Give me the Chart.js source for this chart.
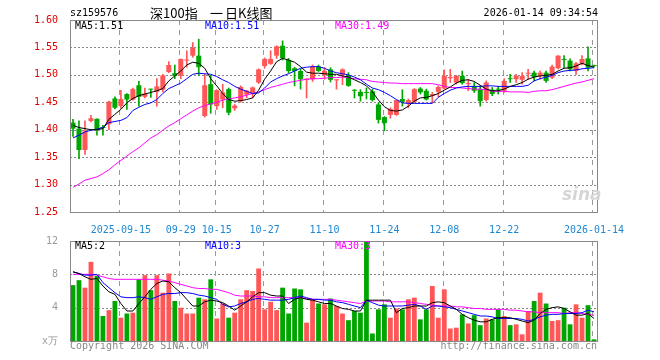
<!DOCTYPE html>
<html>
<head>
<meta charset="utf-8">
<script src="https://cdn.jsdelivr.net/npm/chart.js@4/dist/chart.umd.min.js"></script>
<style>
body{margin:0;background:#fff}
#box{position:relative;width:660px;height:360px;overflow:hidden}
canvas{position:absolute;left:0;top:0}
.t{position:absolute;font:10px/12px "DejaVu Sans Mono",monospace;white-space:nowrap;color:#000}
.c{position:absolute;font:13px/16px "Noto Sans CJK SC";white-space:nowrap;color:#000;top:5px}
</style>
</head>
<body>
<div id="box">
<canvas id="kline" width="660" height="360"></canvas>
<canvas id="vol" width="660" height="360"></canvas>
<div class="t" style="left:70px;top:7px">sz159576</div>
<div class="c" style="left:150px">深100指</div>
<div class="c" style="left:210px">一</div>
<div class="c" style="left:225px">日K线图</div>
<div class="t" style="right:62px;top:7px">2026-01-14 09:34:54</div>
<div class="t" id="ma5" style="left:75px;top:20px"></div>
<div class="t" id="ma10" style="left:205px;top:20px;color:#0000ff"></div>
<div class="t" id="ma30" style="left:335px;top:20px;color:#ff00ff"></div>
<div class="t" id="vma5" style="left:75px;top:240px"></div>
<div class="t" id="vma10" style="left:205px;top:240px;color:#0000ff"></div>
<div class="t" id="vma30" style="left:335px;top:240px;color:#ff00ff"></div>
<div class="t" style="left:70px;top:340px;color:#888">Copyright 2026 SINA.COM</div>
<div class="t" style="right:63px;top:340px;color:#888">http://finance.sina.com.cn</div>
<div class="t" style="left:562px;top:185px;font:italic bold 17px/18px 'DejaVu Sans';color:#d6d6d6">sina</div>
</div>
<script>
// trading days shown on the chart
var dates = ['2025-09-03','2025-09-04','2025-09-05','2025-09-08','2025-09-09','2025-09-10','2025-09-11','2025-09-12','2025-09-15','2025-09-16','2025-09-17','2025-09-18','2025-09-19','2025-09-22','2025-09-23','2025-09-24','2025-09-25','2025-09-26','2025-09-29','2025-09-30',
 '2025-10-09','2025-10-10','2025-10-13','2025-10-14','2025-10-15','2025-10-16','2025-10-17','2025-10-20','2025-10-21','2025-10-22','2025-10-23','2025-10-24','2025-10-27','2025-10-28','2025-10-29','2025-10-30','2025-10-31',
 '2025-11-03','2025-11-04','2025-11-05','2025-11-06','2025-11-07','2025-11-10','2025-11-11','2025-11-12','2025-11-13','2025-11-14','2025-11-17','2025-11-18','2025-11-19','2025-11-20','2025-11-21','2025-11-24','2025-11-25','2025-11-26','2025-11-27','2025-11-28',
 '2025-12-01','2025-12-02','2025-12-03','2025-12-04','2025-12-05','2025-12-08','2025-12-09','2025-12-10','2025-12-11','2025-12-12','2025-12-15','2025-12-16','2025-12-17','2025-12-18','2025-12-19','2025-12-22','2025-12-23','2025-12-24','2025-12-25','2025-12-26','2025-12-29','2025-12-30','2025-12-31',
 '2026-01-05','2026-01-06','2026-01-07','2026-01-08','2026-01-09','2026-01-12','2026-01-13','2026-01-14'];

var tickDates = ['2025-09-15','2025-09-29','2025-10-15','2025-10-27','2025-11-10','2025-11-24','2025-12-08','2025-12-22','2026-01-14'];
var tickText = ['2025-09-15','09-29','10-15','10-27','11-10','11-24','12-08','12-22','2026-01-14'];
var priceTicks = [1.25,1.30,1.35,1.40,1.45,1.50,1.55,1.60];
var volTicks = [0,4,8,12];

var open = [1.413,1.402,1.363,1.416,1.420,1.404,1.410,1.457,1.443,1.465,1.455,1.481,1.460,1.474,1.469,1.473,1.505,1.503,1.499,1.526,
 1.535,1.535,1.425,1.483,1.443,1.455,1.474,1.439,1.452,1.464,1.466,1.486,1.516,1.520,1.535,1.553,1.527,
 1.512,1.507,1.491,1.492,1.515,1.500,1.510,1.490,1.500,1.499,1.472,1.469,1.468,1.470,1.446,1.423,1.427,1.427,1.456,
 1.448,1.451,1.475,1.471,1.462,1.469,1.475,1.494,1.486,1.498,1.483,1.478,1.474,1.454,1.473,1.474,1.471,1.493,1.492,1.491,1.502,1.504,1.498,1.504,
 1.495,1.512,1.528,1.526,1.507,1.520,1.530,1.517];
var high = [1.419,1.416,1.416,1.426,1.420,1.408,1.452,1.460,1.472,1.466,1.476,1.488,1.476,1.474,1.493,1.501,1.524,1.518,1.529,1.544,
 1.559,1.565,1.501,1.499,1.473,1.483,1.476,1.446,1.480,1.472,1.478,1.511,1.531,1.544,1.553,1.562,1.530,
 1.514,1.511,1.493,1.518,1.518,1.513,1.513,1.491,1.511,1.504,1.473,1.473,1.476,1.474,1.449,1.424,1.440,1.454,1.473,
 1.456,1.475,1.477,1.474,1.468,1.480,1.509,1.510,1.499,1.507,1.492,1.486,1.480,1.489,1.477,1.479,1.493,1.501,1.501,1.504,1.510,1.507,1.507,1.507,
 1.518,1.535,1.535,1.529,1.523,1.535,1.551,1.518];
var low = [1.388,1.347,1.355,1.414,1.390,1.390,1.400,1.438,1.439,1.437,1.454,1.443,1.458,1.459,1.443,1.469,1.504,1.493,1.493,1.514,
 1.532,1.499,1.423,1.430,1.437,1.440,1.427,1.435,1.450,1.458,1.458,1.484,1.512,1.519,1.530,1.527,1.504,
 1.480,1.474,1.458,1.488,1.506,1.492,1.487,1.474,1.482,1.479,1.458,1.452,1.456,1.452,1.412,1.398,1.421,1.426,1.443,
 1.440,1.450,1.465,1.454,1.449,1.460,1.474,1.486,1.483,1.483,1.471,1.468,1.443,1.452,1.462,1.465,1.468,1.486,1.486,1.483,1.492,1.489,1.492,1.486,
 1.493,1.511,1.513,1.507,1.501,1.518,1.507,1.514];
var close = [1.402,1.363,1.397,1.421,1.401,1.403,1.451,1.440,1.456,1.455,1.474,1.460,1.466,1.473,1.479,1.499,1.518,1.498,1.529,1.527,
 1.549,1.514,1.481,1.446,1.472,1.468,1.431,1.444,1.478,1.471,1.477,1.510,1.529,1.529,1.552,1.530,1.507,
 1.507,1.492,1.493,1.515,1.507,1.507,1.491,1.491,1.510,1.480,1.471,1.461,1.467,1.454,1.418,1.412,1.438,1.454,1.451,
 1.454,1.474,1.468,1.455,1.465,1.478,1.498,1.496,1.498,1.485,1.485,1.471,1.452,1.486,1.465,1.473,1.489,1.492,1.498,1.498,1.503,1.496,1.504,1.489,
 1.515,1.535,1.527,1.510,1.521,1.529,1.513,1.516];

var ma5 = [1.408,1.404,1.402,1.400,1.400,1.402,1.419,1.428,1.437,1.449,1.457,1.462,1.465,1.468,1.471,1.475,1.489,1.498,1.507,1.518,
 1.523,1.521,1.512,1.493,1.480,1.466,1.455,1.452,1.453,1.455,1.458,1.472,1.492,1.507,1.524,1.530,1.527,
 1.523,1.515,1.505,1.503,1.503,1.502,1.501,1.501,1.498,1.496,1.491,1.486,1.480,1.469,1.454,1.442,1.435,1.434,1.436,
 1.443,1.452,1.458,1.459,1.462,1.466,1.472,1.478,1.485,1.490,1.491,1.488,1.481,1.474,1.471,1.471,1.474,1.479,1.482,1.486,1.492,1.496,1.498,1.499,
 1.501,1.507,1.512,1.513,1.516,1.521,1.517,1.514];
var ma10 = [1.385,1.390,1.396,1.399,1.401,1.404,1.413,1.415,1.417,1.422,1.435,1.441,1.446,1.449,1.455,1.466,1.475,1.480,1.485,1.493,
 1.501,1.503,1.502,1.501,1.497,1.491,1.486,1.479,1.474,1.470,1.466,1.467,1.476,1.487,1.493,1.498,1.502,
 1.507,1.512,1.514,1.515,1.515,1.512,1.507,1.504,1.502,1.500,1.496,1.491,1.483,1.476,1.473,1.468,1.462,1.455,1.449,
 1.448,1.448,1.448,1.448,1.448,1.459,1.466,1.472,1.476,1.478,1.479,1.479,1.479,1.480,1.480,1.479,1.479,1.479,1.479,1.479,1.481,1.489,1.493,1.496,
 1.499,1.504,1.507,1.508,1.509,1.511,1.512,1.513];
var ma30 = [1.295,1.301,1.308,1.311,1.314,1.320,1.327,1.336,1.344,1.352,1.360,1.367,1.376,1.385,1.391,1.399,1.407,1.413,1.420,1.427,
 1.434,1.440,1.444,1.447,1.450,1.454,1.456,1.458,1.460,1.463,1.466,1.469,1.473,1.477,1.480,1.483,1.486,
 1.488,1.490,1.492,1.493,1.493,1.494,1.495,1.495,1.496,1.495,1.493,1.492,1.491,1.488,1.487,1.486,1.485,1.485,1.484,
 1.484,1.484,1.484,1.484,1.484,1.482,1.479,1.477,1.477,1.476,1.475,1.474,1.474,1.473,1.470,1.470,1.470,1.469,1.469,1.469,1.468,1.470,1.471,1.471,
 1.473,1.476,1.479,1.482,1.485,1.487,1.490,1.493];

// volume, x10k
var vol = [6.7,7.3,6.4,9.5,7.8,3.0,3.7,4.8,2.8,3.3,3.4,7.4,7.9,6.1,7.9,5.8,8.1,4.8,4.0,3.3,
 3.3,5.2,5.0,7.4,2.7,4.5,2.8,3.4,5.0,6.1,6.0,8.7,3.8,4.7,3.7,6.4,3.3,
 6.3,6.2,2.2,5.0,4.5,4.4,5.1,4.2,3.3,2.5,3.6,3.4,12.0,0.9,3.8,4.4,2.8,3.9,3.8,
 5.0,5.2,2.6,3.8,6.6,2.8,6.2,1.5,1.6,3.2,2.1,3.1,1.9,2.7,2.6,3.8,3.0,1.9,2.0,0.8,3.6,4.8,5.8,4.5,
 2.4,2.5,4.0,2.0,4.4,2.8,4.3,0.2];
var vma5 = [8.3,8.1,7.7,7.4,7.5,6.6,5.9,5.6,4.5,3.6,3.6,4.5,5.3,6.2,6.9,7.2,7.1,6.4,5.8,5.0,
 4.2,4.2,4.7,4.9,4.8,4.6,4.2,3.7,4.2,4.7,5.3,5.8,5.8,5.5,5.4,5.4,4.5,
 5.0,5.2,5.0,4.9,4.7,4.5,4.5,4.2,3.9,3.8,3.6,3.6,4.9,4.9,4.9,4.9,4.9,3.4,3.9,
 4.0,4.2,4.2,4.2,4.6,4.7,4.6,4.2,3.8,3.2,2.8,2.5,2.3,2.3,2.6,2.8,2.8,2.8,2.6,2.4,2.2,2.5,3.3,3.8,
 4.0,4.1,3.9,3.5,3.1,3.1,3.3,2.7];
var vma10 = [8.3,8.1,7.9,7.9,8.0,7.0,6.4,5.8,5.3,5.2,5.2,5.3,5.2,5.0,5.3,5.6,5.7,5.7,5.8,5.8,
 5.7,5.5,5.4,5.2,5.0,4.4,4.1,4.2,4.5,4.7,5.0,5.1,5.0,4.9,4.9,4.9,5.0,
 5.2,5.4,5.2,5.0,5.0,4.9,4.9,4.7,4.6,4.4,4.2,4.0,4.9,4.6,4.3,4.2,4.2,4.2,4.2,
 4.3,4.4,4.2,3.8,4.2,4.2,4.1,4.0,3.8,3.6,3.4,3.2,3.0,3.0,2.9,2.7,2.7,2.7,2.7,2.6,2.4,2.6,2.9,3.1,
 3.2,3.2,3.3,3.3,3.3,3.4,3.7,3.5];
var vma30 = [8.0,8.0,8.0,8.0,7.9,7.7,7.5,7.4,7.4,7.4,7.4,7.4,7.4,7.4,7.4,7.3,7.2,7.0,6.8,6.6,
 6.4,6.3,6.3,6.2,6.2,6.0,5.8,5.5,5.4,5.4,5.4,5.3,5.3,5.2,5.2,5.2,5.2,
 5.2,5.2,5.1,5.0,5.0,5.0,5.0,4.9,4.8,4.7,4.6,4.5,4.8,4.8,4.8,4.8,4.7,4.7,4.7,
 4.7,4.6,4.5,4.4,4.3,4.2,4.2,4.2,4.1,4.1,4.0,3.9,3.9,3.8,3.8,3.8,3.8,3.7,3.7,3.6,3.5,3.5,3.4,3.4,
 3.4,3.4,3.3,3.4,3.4,3.3,3.2,3.1];

var upColor = '#ff5757';
var downColor = '#00a600';
var colors = close.map(function(c, i){ return c >= open[i] ? upColor : downColor; });
var tickIdx = tickDates.map(function(d){ return dates.indexOf(d); });
var monoFont = {family: 'DejaVu Sans Mono', size: 10};

var last = dates.length - 1;
document.getElementById('ma5').textContent = 'MA5:' + ma5[last].toFixed(2);
document.getElementById('ma10').textContent = 'MA10:' + ma10[last].toFixed(2);
document.getElementById('ma30').textContent = 'MA30:' + ma30[last].toFixed(2);
document.getElementById('vma5').textContent = 'MA5:' + Math.floor(vma5[last]);
document.getElementById('vma10').textContent = 'MA10:' + Math.floor(vma10[last]);
document.getElementById('vma30').textContent = 'MA30:' + Math.floor(vma30[last]);

// dotted value lines, dashed date lines, grey box round the plot
var boxPlugin = {
  id: 'boxlines',
  beforeDatasetsDraw: function(chart, args, opts){
    var a = chart.chartArea, ctx = chart.ctx;
    var xs = chart.scales.x, ys = chart.scales.y;
    ctx.save();
    ctx.lineWidth = 1;
    ctx.strokeStyle = '#888888';
    ctx.setLineDash([2, 2]);
    (opts.values || []).forEach(function(v){
      var py = Math.round(ys.getPixelForValue(v)) + 0.5;
      ctx.beginPath(); ctx.moveTo(a.left, py); ctx.lineTo(a.right, py); ctx.stroke();
    });
    ctx.strokeStyle = '#999999';
    ctx.setLineDash([5, 5]);
    tickIdx.forEach(function(i){
      var px = Math.round(xs.getPixelForValue(i) - 1.6) + 0.5;
      ctx.beginPath(); ctx.moveTo(px, a.top); ctx.lineTo(px, a.bottom); ctx.stroke();
    });
    ctx.restore();
  },
  afterDraw: function(chart){
    var a = chart.chartArea, ctx = chart.ctx;
    ctx.save();
    ctx.strokeStyle = '#888888';
    ctx.lineWidth = 1;
    ctx.setLineDash([]);
    ctx.strokeRect(a.left + 0.5, a.top + 0.5, a.right - a.left, a.bottom - a.top);
    ctx.restore();
  }
};

function maLine(label, data, color){
  return {type: 'line', label: label, data: data, borderColor: color, borderWidth: 1,
    pointRadius: 0, tension: 0, fill: false, order: 1};
}

new Chart(document.getElementById('kline'), {
  type: 'bar',
  data: {
    labels: dates,
    datasets: [
      {label: 'wick', data: dates.map(function(d, i){ return [low[i], high[i]]; }),
        backgroundColor: colors, barThickness: 1, grouped: false, order: 4},
      {label: 'body', data: dates.map(function(d, i){ return [open[i], close[i]]; }),
        backgroundColor: colors, categoryPercentage: 1, barPercentage: 0.84, minBarLength: 1,
        grouped: false, order: 3},
      maLine('MA5', ma5, '#000000'),
      maLine('MA10', ma10, '#0000ff'),
      maLine('MA30', ma30, '#ff00ff')
    ]
  },
  options: {
    responsive: false,
    animation: false,
    layout: {padding: {left: 0, right: 63, top: 20, bottom: 0}},
    plugins: {legend: {display: false}, tooltip: {enabled: false}, boxlines: {values: priceTicks.slice(1, -1)}},
    scales: {
      x: {
        offset: true,
        grid: {display: false},
        border: {display: false},
        ticks: {autoSkip: false, maxRotation: 0, minRotation: 0, padding: 4, color: '#1e88d4', font: monoFont,
          callback: function(v, i){ var j = tickIdx.indexOf(i); return j < 0 ? '' : tickText[j]; }},
        afterFit: function(s){ s.height = 148; }
      },
      y: {
        min: priceTicks[0], max: priceTicks[priceTicks.length - 1],
        afterBuildTicks: function(s){ s.ticks = priceTicks.map(function(v){ return {value: v}; }); },
        grid: {display: false},
        border: {display: false},
        ticks: {padding: 4, color: '#e00000', font: monoFont,
          callback: function(v){ return v.toFixed(2); }},
        afterFit: function(s){ s.width = 70; }
      }
    }
  },
  plugins: [boxPlugin]
});

new Chart(document.getElementById('vol'), {
  type: 'bar',
  data: {
    labels: dates,
    datasets: [
      {label: 'vol', data: vol, backgroundColor: colors, categoryPercentage: 1, barPercentage: 0.8, order: 3},
      maLine('MA5', vma5, '#000000'),
      maLine('MA10', vma10, '#0000ff'),
      maLine('MA30', vma30, '#ff00ff')
    ]
  },
  options: {
    responsive: false,
    animation: false,
    layout: {padding: {left: 0, right: 63, top: 241, bottom: 19}},
    plugins: {legend: {display: false}, tooltip: {enabled: false}, boxlines: {values: volTicks.slice(1, -1)}},
    scales: {
      x: {
        offset: true,
        grid: {display: false},
        border: {display: false},
        ticks: {display: false},
        afterFit: function(s){ s.height = 0; }
      },
      y: {
        min: volTicks[0], max: volTicks[volTicks.length - 1],
        afterBuildTicks: function(s){ s.ticks = volTicks.map(function(v){ return {value: v}; }); },
        grid: {display: false},
        border: {display: false},
        ticks: {padding: 4, color: '#999', font: monoFont,
          callback: function(v){ return v === 0 ? 'x万' : v; }},
        afterFit: function(s){ s.width = 70; }
      }
    }
  },
  plugins: [boxPlugin]
});
</script>
</body>
</html>
